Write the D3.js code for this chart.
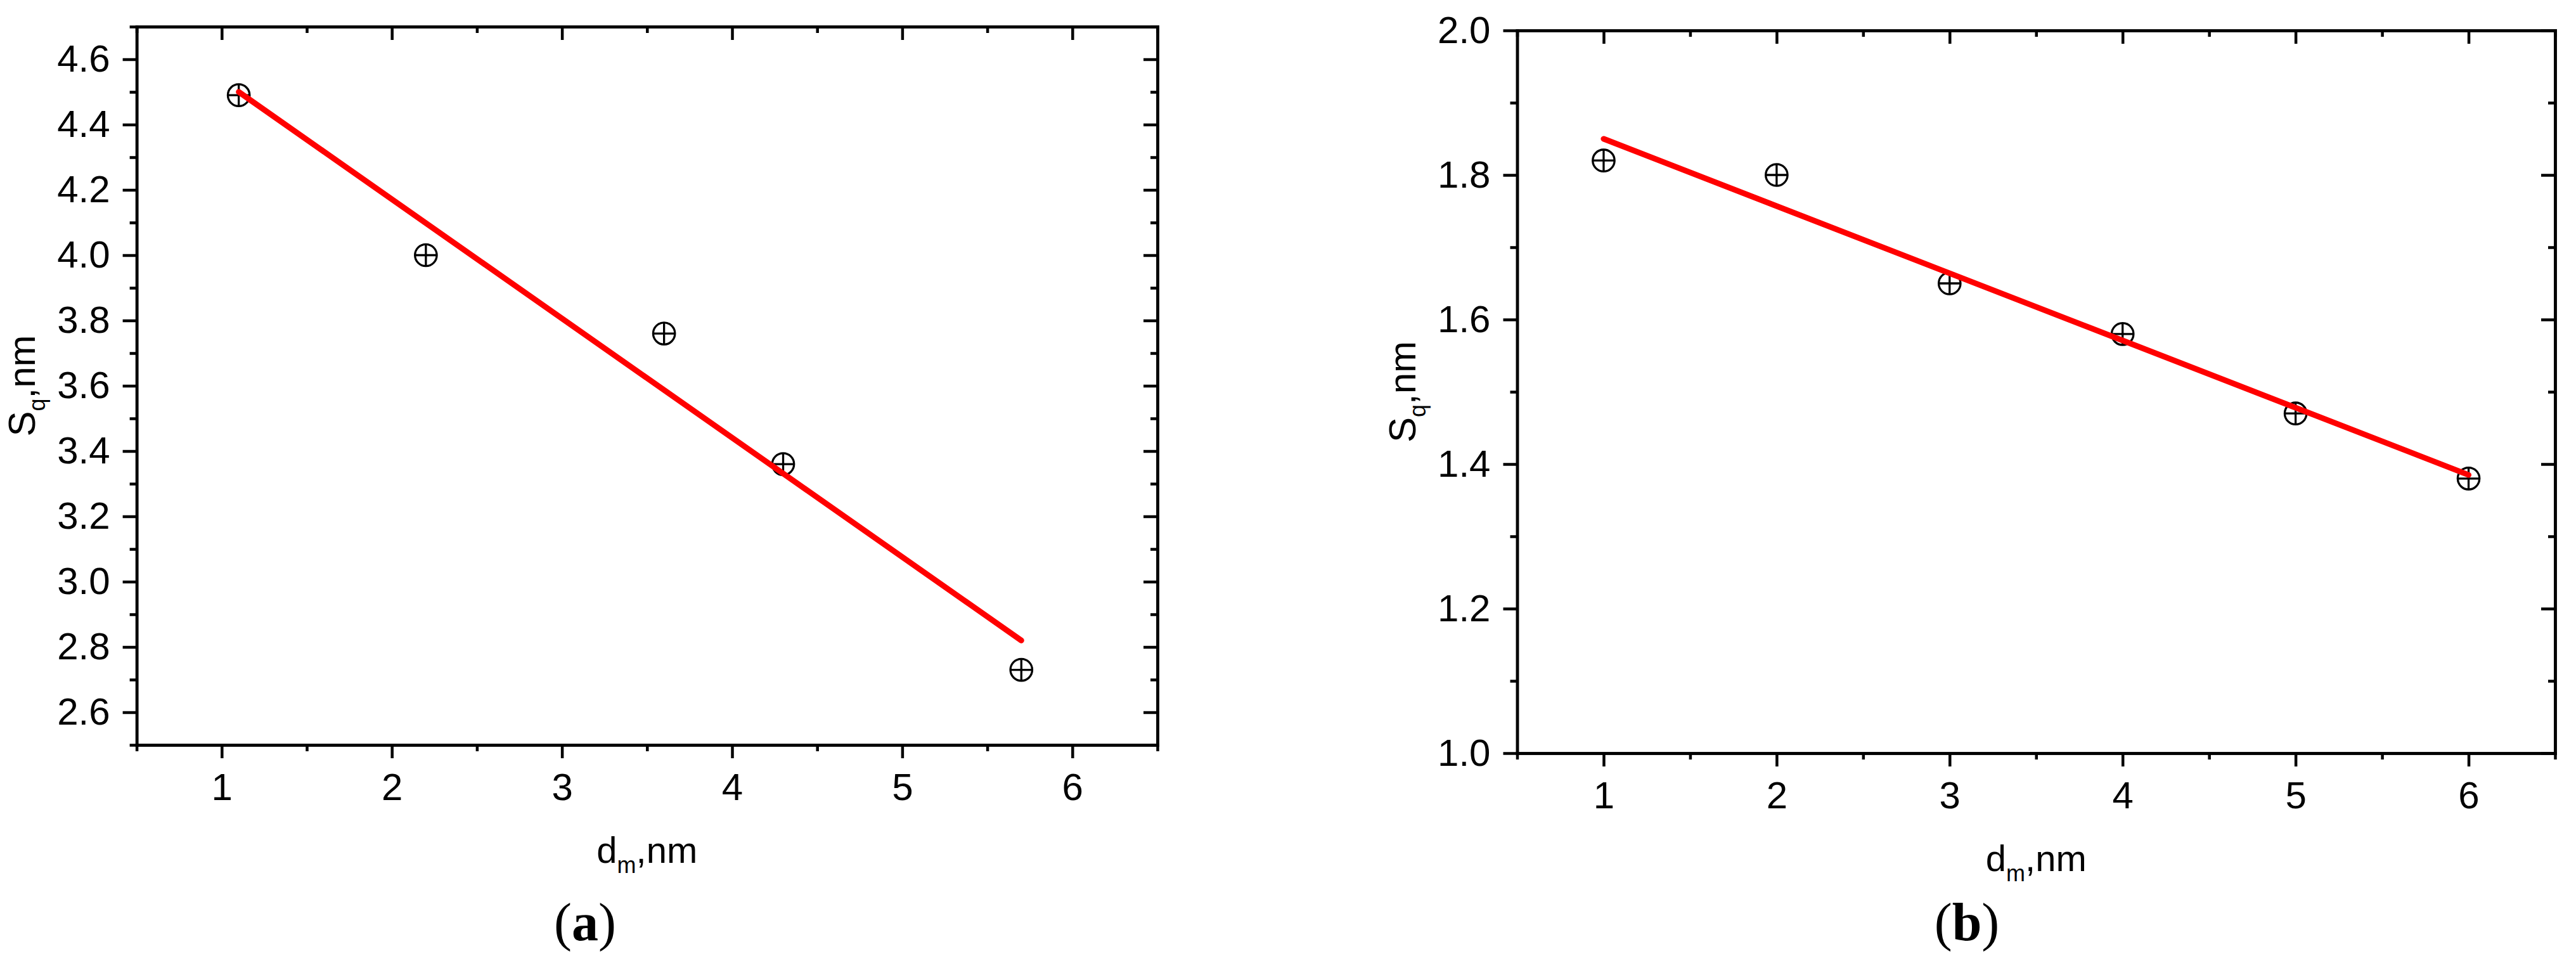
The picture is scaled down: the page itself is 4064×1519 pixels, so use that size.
<!DOCTYPE html>
<html><head><meta charset="utf-8">
<script src="https://cdn.jsdelivr.net/npm/d3@7"></script>
<style>body{margin:0;background:#fff}svg{display:block}</style>
</head><body>
<svg id="c" width="4064" height="1519"></svg>
<script>
// ---------- Panel (a) data ----------
const dmA = [1.1, 2.2, 3.6, 4.3, 5.7];
const sqA = [4.49, 4.00, 3.76, 3.36, 2.73];
const fitXA = [1.1, 5.7];
const fitYA = [4.50, 2.82];
const xMajorA = [1, 2, 3, 4, 5, 6];
const xMinorA = [0.5, 1.5, 2.5, 3.5, 4.5, 5.5, 6.5];
const yMajorA = [2.6, 2.8, 3.0, 3.2, 3.4, 3.6, 3.8, 4.0, 4.2, 4.4, 4.6];
const yMinorA = [2.5, 2.7, 2.9, 3.1, 3.3, 3.5, 3.7, 3.9, 4.1, 4.3, 4.5, 4.7];

// ---------- Panel (b) data ----------
const dmB = [1, 2, 3, 4, 5, 6];
const sqB = [1.82, 1.80, 1.65, 1.58, 1.47, 1.38];
const fitXB = [1, 6];
const fitYB = [1.85, 1.385];
const xMajorB = [1, 2, 3, 4, 5, 6];
const xMinorB = [0.5, 1.5, 2.5, 3.5, 4.5, 5.5, 6.5];
const yMajorB = [1.0, 1.2, 1.4, 1.6, 1.8, 2.0];
const yMinorB = [1.1, 1.3, 1.5, 1.7, 1.9];

const svg = d3.select('#c');
svg.append('rect').attr('width', 4064).attr('height', 1519).attr('fill', '#fff');

const SANS = "'Liberation Sans', Arial, sans-serif";
const SERIF = "'Liberation Serif', 'Times New Roman', serif";

function drawPanel(cfg) {
  const x = d3.scaleLinear().domain(cfg.xDomain).range([cfg.left, cfg.right]);
  const y = d3.scaleLinear().domain(cfg.yDomain).range([cfg.bottom, cfg.top]);
  const g = svg.append('g');

  const styleAxis = sel => {
    sel.selectAll('path.domain').attr('stroke', '#000').attr('stroke-width', 4.5).attr('stroke-linecap', 'square');
    sel.selectAll('.tick line').attr('stroke', '#000').attr('stroke-width', 4.5);
    sel.selectAll('.tick text').attr('font-family', SANS).attr('font-size', 60).attr('fill', '#000');
  };

  // minor ticks first
  g.append('g').attr('transform', `translate(0,${cfg.bottom})`)
    .call(d3.axisBottom(x).tickValues(cfg.xMinor).tickSize(10).tickSizeOuter(0).tickFormat(''))
    .call(styleAxis);
  g.append('g').attr('transform', `translate(0,${cfg.top})`)
    .call(d3.axisTop(x).tickValues(cfg.xMinor).tickSize(-10).tickSizeOuter(0).tickFormat(''))
    .call(styleAxis);
  g.append('g').attr('transform', `translate(${cfg.left},0)`)
    .call(d3.axisLeft(y).tickValues(cfg.yMinor).tickSize(11).tickSizeOuter(0).tickFormat(''))
    .call(styleAxis);
  g.append('g').attr('transform', `translate(${cfg.right},0)`)
    .call(d3.axisRight(y).tickValues(cfg.yMinor).tickSize(-11).tickSizeOuter(0).tickFormat(''))
    .call(styleAxis);

  // major ticks
  g.append('g').attr('transform', `translate(0,${cfg.bottom})`)
    .call(d3.axisBottom(x).tickValues(cfg.xMajor).tickSize(21).tickPadding(23).tickSizeOuter(0).tickFormat(d3.format('d')))
    .call(styleAxis);
  g.append('g').attr('transform', `translate(0,${cfg.top})`)
    .call(d3.axisTop(x).tickValues(cfg.xMajor).tickSize(-21).tickSizeOuter(0).tickFormat(''))
    .call(styleAxis);
  g.append('g').attr('transform', `translate(${cfg.left},0)`)
    .call(d3.axisLeft(y).tickValues(cfg.yMajor).tickSize(22).tickPadding(20).tickSizeOuter(0).tickFormat(d3.format('.1f')))
    .call(styleAxis);
  g.append('g').attr('transform', `translate(${cfg.right},0)`)
    .call(d3.axisRight(y).tickValues(cfg.yMajor).tickSize(-22).tickSizeOuter(0).tickFormat(''))
    .call(styleAxis);

  // markers (circle with cross)
  const r = 17.2;
  const pts = cfg.xs.map((v, i) => [v, cfg.ys[i]]);
  const mk = g.append('g').selectAll('g').data(pts).join('g')
    .attr('transform', d => `translate(${x(d[0])},${y(d[1])})`)
    .attr('stroke', '#000').attr('stroke-width', 3.3).attr('fill', 'none');
  mk.append('circle').attr('r', r);
  mk.append('line').attr('x1', -r).attr('x2', r).attr('y1', 0).attr('y2', 0);
  mk.append('line').attr('x1', 0).attr('x2', 0).attr('y1', -r).attr('y2', r);

  // linear fit
  const fit = cfg.fitX.map((v, i) => [v, cfg.fitY[i]]);
  g.append('path').datum(fit)
    .attr('d', d3.line().x(d => x(d[0])).y(d => y(d[1])))
    .attr('fill', 'none').attr('stroke', '#ff0000').attr('stroke-width', 9).attr('stroke-linecap', 'round');

  // axis titles
  const xt = g.append('text').attr('x', (cfg.left + cfg.right) / 2).attr('y', cfg.xTitleY)
    .attr('text-anchor', 'middle').attr('font-family', SANS).attr('font-size', 58).attr('fill', '#000');
  xt.append('tspan').text('d');
  xt.append('tspan').attr('font-size', 36).attr('dy', 16).text('m');
  xt.append('tspan').attr('dy', -16).text(',nm');

  const yt = g.append('text')
    .attr('transform', `translate(${cfg.yTitleX},${(cfg.top + cfg.bottom) / 2}) rotate(-90)`)
    .attr('text-anchor', 'middle').attr('font-family', SANS).attr('font-size', 60).attr('fill', '#000');
  yt.append('tspan').text('S');
  yt.append('tspan').attr('font-size', 36).attr('dy', 16).text('q');
  yt.append('tspan').attr('dy', -16).text(',nm');

  // panel label
  const pl = svg.append('text').attr('x', cfg.labelX).attr('y', 1483)
    .attr('text-anchor', 'middle').attr('font-family', SERIF).attr('font-size', 84).attr('fill', '#000');
  pl.append('tspan').text('(');
  pl.append('tspan').attr('font-weight', 'bold').text(cfg.label);
  pl.append('tspan').text(')');
}

drawPanel({
  xDomain: [0.5, 6.5], yDomain: [2.5, 4.7],
  left: 215.6, right: 1826, top: 42, bottom: 1175,
  xMajor: xMajorA, xMinor: xMinorA, yMajor: yMajorA, yMinor: yMinorA,
  xs: dmA, ys: sqA, fitX: fitXA, fitY: fitYA,
  xTitleY: 1361, yTitleX: 55, labelX: 923, label: 'a'
});
drawPanel({
  xDomain: [0.5, 6.5], yDomain: [1.0, 2.0],
  left: 2393.5, right: 4031, top: 48, bottom: 1188,
  xMajor: xMajorB, xMinor: xMinorB, yMajor: yMajorB, yMinor: yMinorB,
  xs: dmB, ys: sqB, fitX: fitXB, fitY: fitYB,
  xTitleY: 1374, yTitleX: 2233, labelX: 3103, label: 'b'
});
</script>
</body></html>
